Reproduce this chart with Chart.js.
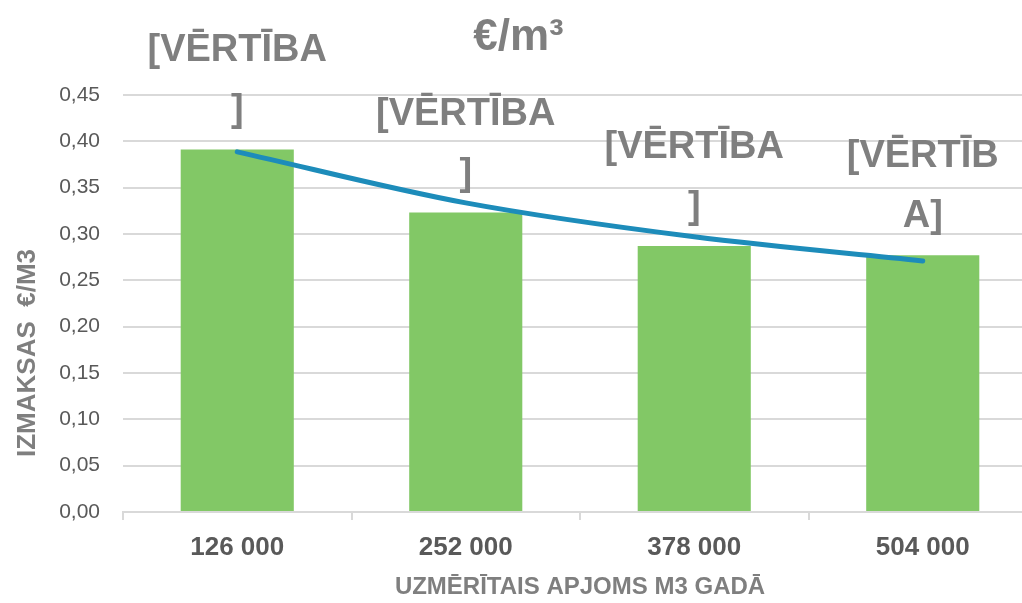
<!DOCTYPE html>
<html>
<head>
<meta charset="utf-8">
<script src="https://cdn.jsdelivr.net/npm/chart.js@4/dist/chart.umd.min.js"></script>
<style>
    html, body { margin: 0; padding: 0; background: #fff; overflow: hidden; }
    #wrap { width: 1045px; height: 603px; }
</style>
</head>
<body>
<div id="wrap"><canvas id="chart-main"></canvas></div>
<script>
// values
CATEGORIES = ["126 000", "252 000", "378 000", "504 000"]
COST_VALUES = [0.391, 0.323, 0.287, 0.277]
TREND_VALUES = [0.3885, 0.3334, 0.2968, 0.2708]
// data labels as they wrap in the original
BAR_LABELS = [
    ["[VĒRTĪBA", "]"],
    ["[VĒRTĪBA", "]"],
    ["[VĒRTĪBA", "]"],
    ["[VĒRTĪB", "A]"]
]
Y_TICKS = [0, 0.05, 0.1, 0.15, 0.2, 0.25, 0.3, 0.35, 0.4, 0.45]
Y_TITLE = "IZMAKSAS  €/M3"

FONT = "'Liberation Sans', Arial, sans-serif"
GREY = "#7f7f7f"
GRID = "#d9d9d9"

// draws the wrapped "[VĒRTĪBA]" labels above the bars + the y title (sits low in the original)
barLabels = {
    id: "barLabels",
    afterDatasetsDraw(chart) {
        var meta = chart.getDatasetMeta(1)
        var ctx = chart.ctx
        ctx.save()
        ctx.font = "bold 38px " + FONT
        ctx.fillStyle = GREY
        ctx.textAlign = "center"
        ctx.textBaseline = "alphabetic"
        meta.data.forEach(function (bar, i) {
            var lines = BAR_LABELS[i]
            for (let k = 0; k < lines.length; k++) {
                var y = bar.y - 28 - (lines.length - 1 - k) * 60
                ctx.fillText(lines[k], bar.x, y)
            }
        })
        // y axis title
        var area = chart.chartArea
        ctx.font = "bold 26px " + FONT
        ctx.textBaseline = "middle"
        ctx.translate(28, area.bottom - 159)
        ctx.rotate(-Math.PI / 2)
        ctx.fillText(Y_TITLE, 0, 0)
        ctx.restore()
    }
}

new Chart("chart-main", {
    type: "bar",
    data: {
        labels: CATEGORIES,
        datasets: [
            {
                type: "line",
                data: TREND_VALUES,
                borderColor: "#1d8cba",
                borderWidth: 5,
                borderCapStyle: "round",
                pointRadius: 0,
                cubicInterpolationMode: "monotone",
                order: 0
            },
            {
                data: COST_VALUES,
                backgroundColor: "#82c866",
                barPercentage: 0.495,
                categoryPercentage: 1,
                order: 1
            }
        ]
    },
    options: {
        responsive: true,
        maintainAspectRatio: false,
        animation: false,
        layout: { padding: { left: 0, right: 8, top: 0, bottom: 0 } },
        plugins: {
            legend: { display: false },
            tooltip: { enabled: false },
            title: {
                display: true,
                text: "€/m³",
                color: GREY,
                font: { family: FONT, size: 44, weight: "bold" },
                padding: { top: 11, bottom: 31 }
            }
        },
        scales: {
            x: {
                grid: { drawOnChartArea: false, color: GRID, lineWidth: 2, tickLength: 8 },
                border: { color: GRID, width: 2 },
                ticks: { color: "#595959", font: { family: FONT, size: 26, weight: "bold" }, padding: 12 },
                title: {
                    display: true,
                    text: "UZMĒRĪTAIS APJOMS M3 GADĀ",
                    color: GREY,
                    font: { family: FONT, size: 24, weight: "bold" },
                    padding: { top: 0, bottom: 1 }
                },
                afterFit: function (s) { s.height = 91 }
            },
            y: {
                min: 0,
                max: 0.45,
                afterBuildTicks: function (s) { s.ticks = Y_TICKS.map(v => ({ value: v })) },
                grid: { color: GRID, lineWidth: 2, drawTicks: false },
                border: { display: false },
                ticks: {
                    color: "#595959",
                    font: { family: FONT, size: 21 },
                    padding: 23,
                    callback: v => v.toFixed(2).replace(".", ",")
                },
                afterFit: function (s) { s.width = 123 }
            }
        }
    },
    plugins: [barLabels]
})
</script>
</body>
</html>
